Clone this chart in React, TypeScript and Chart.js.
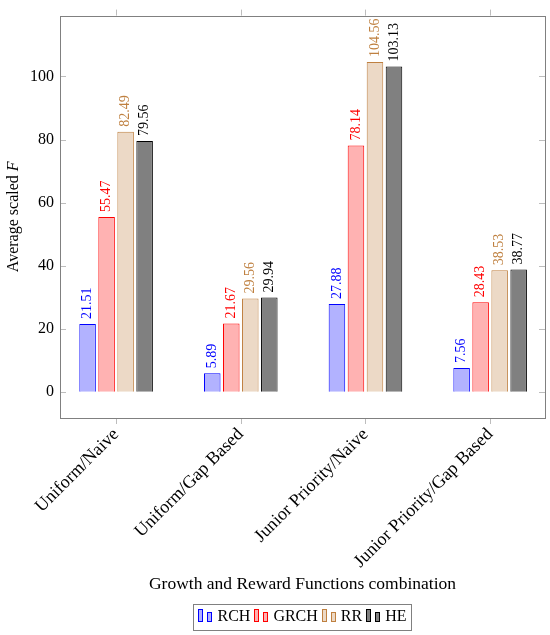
import { useEffect, useRef } from "react"
import { Chart, registerables } from "chart.js"

Chart.register(...registerables)

const categories = ["Uniform/Naive", "Uniform/Gap Based", "Junior Priority/Naive", "Junior Priority/Gap Based"]
const seriesNames = ["RCH", "GRCH", "RR", "HE"]
const rchValues = [21.51, 5.89, 27.88, 7.56]
const grchValues = [55.47, 21.67, 78.14, 28.43]
const rrValues = [82.49, 29.56, 104.56, 38.53]
const heValues = [79.56, 29.94, 103.13, 38.77]
const yTicks = [0, 20, 40, 60, 80, 100]

const fills = ["rgb(178,178,255)", "rgb(255,178,178)", "rgb(236,217,198)", "rgb(128,128,128)"]
const strokes = ["rgb(0,0,255)", "rgb(255,0,0)", "rgb(191,128,64)", "rgb(0,0,0)"]

const FONT = "'Liberation Serif', 'Times New Roman', serif"
const values = [rchValues, grchValues, rrValues, heValues]

const framePlugin = {
  id: "frame",
  beforeDatasetsDraw(chart: any) {
    const { ctx, chartArea } = chart
    const { left, right, top, bottom } = chartArea
    ctx.save()
    ctx.strokeStyle = "#bdbdbd"
    ctx.lineWidth = 1
    ctx.beginPath()
    categories.forEach((_, i) => {
      const x = Math.round(chart.scales.x.getPixelForValue(i)) + 0.5
      ctx.moveTo(x, top - 6)
      ctx.lineTo(x, top)
      ctx.moveTo(x, bottom)
      ctx.lineTo(x, bottom + 6)
    })
    yTicks.forEach((v) => {
      const y = Math.round(chart.scales.y.getPixelForValue(v)) + 0.5
      ctx.moveTo(left, y)
      ctx.lineTo(left + 6, y)
      ctx.moveTo(right - 6, y)
      ctx.lineTo(right, y)
    })
    ctx.stroke()
    ctx.strokeStyle = "#808080"
    ctx.strokeRect(Math.round(left) + 0.5, Math.round(top) + 0.5, Math.round(right - left), Math.round(bottom - top))
    ctx.restore()
  },
}

const valueLabelPlugin = {
  id: "valueLabels",
  afterDatasetsDraw(chart: any) {
    const { ctx } = chart
    ctx.save()
    ctx.font = `14px ${FONT}`
    ctx.textAlign = "left"
    ctx.textBaseline = "middle"
    chart.data.datasets.forEach((_: any, di: number) => {
      const meta = chart.getDatasetMeta(di)
      ctx.fillStyle = strokes[di]
      meta.data.forEach((bar: any, i: number) => {
        ctx.save()
        ctx.translate(bar.x, bar.y - 5)
        ctx.rotate(-Math.PI / 2)
        ctx.fillText(values[di][i].toFixed(2), 0, 0)
        ctx.restore()
      })
    })
    ctx.restore()
  },
}

const yTitlePlugin = {
  id: "yTitle",
  afterDraw(chart: any) {
    const { ctx, chartArea } = chart
    const normal = `16px ${FONT}`
    const italic = `italic 16px ${FONT}`
    ctx.save()
    ctx.translate(14, (chartArea.top + chartArea.bottom) / 2)
    ctx.rotate(-Math.PI / 2)
    ctx.font = normal
    const w1 = ctx.measureText("Average scaled ").width
    ctx.font = italic
    const w2 = ctx.measureText("F").width
    const x0 = -(w1 + w2) / 2
    ctx.textAlign = "left"
    ctx.textBaseline = "middle"
    ctx.fillStyle = "#000"
    ctx.font = normal
    ctx.fillText("Average scaled ", x0, 0)
    ctx.font = italic
    ctx.fillText("F", x0 + w1, 0)
    ctx.restore()
  },
}

// légende encadrée sous le titre de l'axe x
const legendPlugin = {
  id: "boxLegend",
  afterDraw(chart: any) {
    const { ctx, chartArea } = chart
    ctx.save()
    ctx.font = `16px ${FONT}`
    const iconW = 15
    const gap = 4
    const widths = seriesNames.map((n) => ctx.measureText(n).width)
    const total = widths.reduce((a, w) => a + iconW + gap + w, 0) + gap * (seriesNames.length - 1)
    const cx = (chartArea.left + chartArea.right) / 2
    const cy = 617
    let x = cx - total / 2
    ctx.strokeStyle = "#808080"
    ctx.lineWidth = 1
    ctx.strokeRect(Math.round(x - 5) + 0.5, 604.5, Math.round(total + 10), 26)
    ctx.textAlign = "left"
    ctx.textBaseline = "middle"
    seriesNames.forEach((name, i) => {
      ctx.fillStyle = fills[i]
      ctx.strokeStyle = strokes[i]
      const bx = Math.round(x) + 0.5
      ctx.fillRect(bx, 609.5, 4, 12)
      ctx.strokeRect(bx, 609.5, 4, 12)
      ctx.fillRect(bx + 9, 612.5, 4, 9)
      ctx.strokeRect(bx + 9, 612.5, 4, 9)
      x += iconW + gap
      ctx.fillStyle = "#000"
      ctx.fillText(name, x, cy)
      x += widths[i] + gap
    })
    ctx.restore()
  },
}

export default function App() {
  const chartRef = useRef<HTMLCanvasElement>(null)
  const chartInstance = useRef<Chart | null>(null)

  useEffect(() => {
    document.body.style.margin = "0"
    if (!chartRef.current) return
    if (chartInstance.current) chartInstance.current.destroy()

    chartInstance.current = new Chart(chartRef.current, {
      type: "bar",
      data: {
        datasets: seriesNames.map((name, i) => ({
          label: name,
          data: values[i].map((v, j) => ({ x: j, y: v })),
          backgroundColor: fills[i],
          borderColor: strokes[i],
          borderWidth: 1,
          categoryPercentage: 0.61,
          barPercentage: 0.87,
        })),
      },
      options: {
        animation: false,
        responsive: false,
        maintainAspectRatio: false,
        layout: { padding: { top: 12, right: 5, left: 0, bottom: 33 } },
        plugins: {
          tooltip: { enabled: false },
          legend: { display: false },
        },
        scales: {
          x: {
            type: "linear",
            min: -0.45,
            max: 3.44,
            offset: false,
            grid: { display: false, drawTicks: false },
            border: { display: false },
            afterBuildTicks: (scale: any) => {
              scale.ticks = categories.map((_, i) => ({ value: i }))
            },
            ticks: {
              color: "#000",
              font: { family: FONT, size: 18 },
              minRotation: 45,
              maxRotation: 45,
              padding: 6,
              callback: (v: any) => categories[v] ?? "",
            },
            title: {
              display: true,
              text: "Growth and Reward Functions combination",
              color: "#000",
              font: { family: FONT, size: 17.5 },
              padding: { top: 4, bottom: 7 },
            },
            afterFit: (scale: any) => {
              scale.height = 184
            },
          },
          y: {
            min: -8.3,
            max: 119.3,
            grid: { display: false, drawTicks: false },
            border: { display: false },
            afterBuildTicks: (scale: any) => {
              scale.ticks = yTicks.map((v) => ({ value: v }))
            },
            ticks: {
              color: "#000",
              font: { family: FONT, size: 16 },
              padding: 6,
            },
            afterFit: (scale: any) => {
              scale.width = 60
            },
          },
        },
      },
      plugins: [framePlugin, valueLabelPlugin, yTitlePlugin, legendPlugin],
    })

    return () => {
      if (chartInstance.current) {
        chartInstance.current.destroy()
        chartInstance.current = null
      }
    }
  }, [])

  return (
    <div style={{ width: 550, height: 635 }}>
      <canvas ref={chartRef} width={550} height={635}></canvas>
    </div>
  )
}
